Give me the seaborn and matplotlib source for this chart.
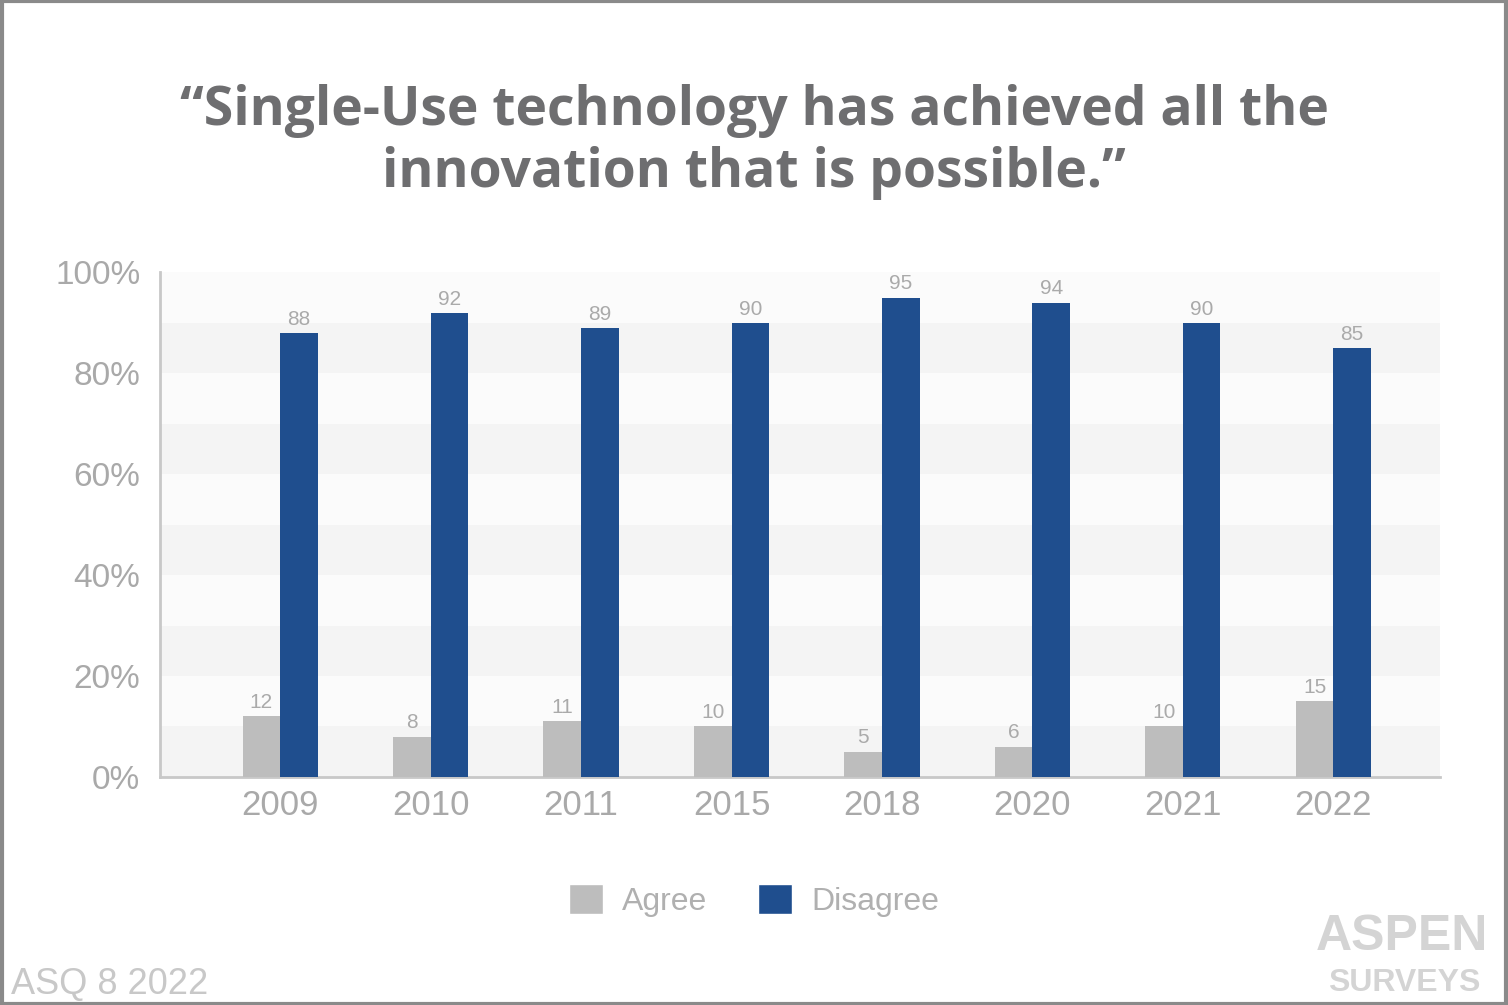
import matplotlib
matplotlib.use("Agg")
import matplotlib.pyplot as plt
import seaborn as sns
import pandas as pd
from matplotlib.patches import Rectangle, Patch

years = ["2009", "2010", "2011", "2015", "2018", "2020", "2021", "2022"]
agree = [12, 8, 11, 10, 5, 6, 10, 15]
disagree = [88, 92, 89, 90, 95, 94, 90, 85]
series = ["Agree", "Disagree"]
colors = {"Agree": "#bdbdbd", "Disagree": "#1f4e8e"}
yticks = [0, 20, 40, 60, 80, 100]
ytick_labels = ["0%", "20%", "40%", "60%", "80%", "100%"]

df = pd.DataFrame({
    "Year": years * 2,
    "Response": ["Agree"] * len(years) + ["Disagree"] * len(years),
    "Value": agree + disagree,
})

sns.set_theme(style="white")
plt.rcParams["font.family"] = ["Liberation Sans", "DejaVu Sans"]

fig = plt.figure(figsize=(15.08, 10.05), dpi=100)
fig.patch.set_facecolor("white")
ax = fig.add_axes([0.106, 0.227, 0.849, 0.502])

# alternating background bands
for lo in range(0, 100, 20):
    ax.axhspan(lo, lo + 10, color="#f4f4f4", zorder=0, lw=0)
ax.axhspan(10, 100, xmin=0, xmax=1, color="#fbfbfb", zorder=-1, lw=0)

sns.barplot(data=df, x="Year", y="Value", hue="Response", order=years,
            hue_order=series, palette=colors, width=0.5, ax=ax,
            saturation=1, legend=False, zorder=3, linewidth=0)

for cont in ax.containers:
    ax.bar_label(cont, fmt="%d", padding=3, fontsize=15, color="#aaaaaa")

ax.set_ylim(0, 100)
ax.set_xlim(-0.8, 7.71)
ax.set_yticks(yticks)
ax.set_yticklabels(ytick_labels)
ax.set_xlabel("")
ax.set_ylabel("")
ax.tick_params(axis="both", length=0, labelsize=25, labelcolor="#a9a9a9")
ax.tick_params(axis="y", pad=14, labelsize=24)
ax.tick_params(axis="x", pad=9)
for s in ["top", "right"]:
    ax.spines[s].set_visible(False)
for s in ["left", "bottom"]:
    ax.spines[s].set_color("#c8c8c8")
    ax.spines[s].set_linewidth(2)
ax.set_facecolor("white")

fig.text(0.5, 0.859, "\u201cSingle-Use technology has achieved all the\ninnovation that is possible.\u201d",
         ha="center", va="center", fontsize=38.5, fontweight="bold",
         color="#6e6e70", family=["Open Sans", "DejaVu Sans"], linespacing=1.2)

handles = [Patch(facecolor=colors[s], label=s) for s in series]
leg = fig.legend(handles=handles, loc="center", bbox_to_anchor=(0.5, 0.104),
                 ncol=2, frameon=False, fontsize=23, handlelength=1.05,
                 handleheight=1.05, columnspacing=1.6, handletextpad=0.6)
for t in leg.get_texts():
    t.set_color("#b0b0b0")

fig.text(0.007, 0.011, "ASQ 8 2022", fontsize=26, color="#c8c8c8",
         ha="left", va="baseline")
fig.text(0.987, 0.055, "ASPEN", fontsize=36, fontweight="bold", color="#d4d4d4",
         ha="right", va="baseline")
fig.text(0.982, 0.014, "SURVEYS", fontsize=23, fontweight="bold", color="#d4d4d4",
         ha="right", va="baseline")

fig.patches.append(Rectangle((0.001, 0.001), 0.998, 0.998, transform=fig.transFigure,
                             fill=False, edgecolor="#8a8a8a", linewidth=3))

fig.savefig("out.png", dpi=100)
